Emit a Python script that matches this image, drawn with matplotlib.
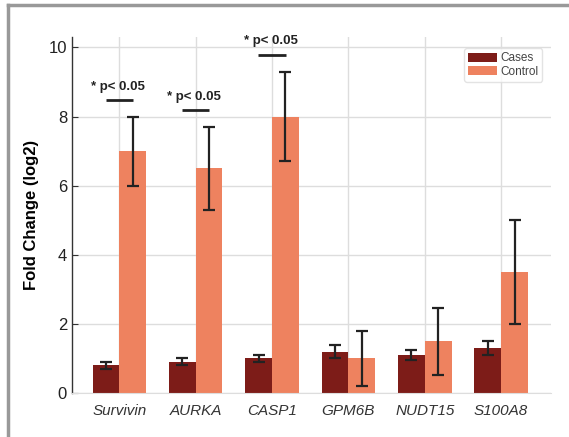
import numpy as np
import matplotlib
matplotlib.use('Agg')
import matplotlib.pyplot as plt
from matplotlib.lines import Line2D

plt.rcParams['font.family'] = ['Liberation Sans', 'DejaVu Sans']

genes = ['Survivin', 'AURKA', 'CASP1', 'GPM6B', 'NUDT15', 'S100A8']
cases = [0.8, 0.9, 1.0, 1.2, 1.1, 1.3]
cases_err = [0.1, 0.1, 0.1, 0.2, 0.15, 0.2]
control = [7.0, 6.5, 8.0, 1.0, 1.5, 3.5]
control_err = [1.0, 1.2, 1.3, 0.8, 0.97, 1.5]
# significance marks: gene index, bar height
sig_idx = [0, 1, 2]
sig_y = [8.47, 8.18, 9.79]
sig_text = '* p< 0.05'

case_col = '#7d1c18'
ctrl_col = '#ee825f'

fig = plt.figure(figsize=(5.69, 4.37), dpi=100)
ax = fig.add_axes([0.1265, 0.1007, 0.8415, 0.8146])

x = np.arange(len(genes))
w = 0.35
ax.bar(x - w/2, cases, w, color=case_col, label='Cases', zorder=2)
ax.bar(x + w/2, control, w, color=ctrl_col, label='Control', zorder=2)
ax.errorbar(x - w/2, cases, yerr=cases_err, fmt='none', ecolor='#222222',
            elinewidth=1.6, capsize=4.5, capthick=1.6, zorder=3)
ax.errorbar(x + w/2, control, yerr=control_err, fmt='none', ecolor='#222222',
            elinewidth=1.6, capsize=4.5, capthick=1.6, zorder=3)

for i, yv in zip(sig_idx, sig_y):
    ax.plot([i - 0.18, i + 0.18], [yv, yv], color='#222222', lw=2, zorder=3,
            solid_capstyle='butt')
    ax.text(i - 0.02, yv + 0.22, sig_text, ha='center', va='bottom',
            fontsize=9.5, fontweight='bold', color='#222222')

ax.set_xlim(-0.62, 5.65)
ax.set_ylim(0, 10.3)
ax.set_yticks([0, 2, 4, 6, 8, 10])
ax.set_xticks(x)
ax.set_xticklabels(genes, fontstyle='italic', fontsize=11, color='#333333')
ax.tick_params(axis='x', length=0, pad=8)
ax.tick_params(axis='y', direction='in', length=4, labelsize=12,
               color='#333333', labelcolor='#222222')
ax.grid(True, color='#dddddd', lw=1, zorder=0)
ax.set_axisbelow(True)
for s in ['top', 'right']:
    ax.spines[s].set_visible(False)
ax.spines['left'].set_color('#333333')
ax.spines['left'].set_linewidth(1)
ax.spines['bottom'].set_color('#dddddd')
ax.set_ylabel('Fold Change (log2)', fontsize=12, fontweight='bold', labelpad=7)

leg = ax.legend(loc='upper right', bbox_to_anchor=(0.995, 0.985), fontsize=8.5,
                handlelength=2.4, handleheight=0.8, labelspacing=0.1,
                handletextpad=0.3, borderpad=0.35, fancybox=True)
leg.get_frame().set_edgecolor('#dddddd')
for t in leg.get_texts():
    t.set_color('#444444')

# outer frame of the panel (top and left edges visible)
fig.add_artist(Line2D([8/569, 8/569], [0, 1 - 5/437], transform=fig.transFigure,
                      color='#999999', lw=2.5))
fig.add_artist(Line2D([8/569, 1], [1 - 5/437, 1 - 5/437], transform=fig.transFigure,
                      color='#999999', lw=2.5))

fig.savefig('out.png', dpi=100)
